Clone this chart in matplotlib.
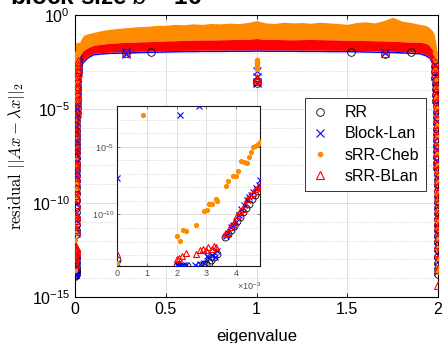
"""Residual of computed eigenpairs vs eigenvalue, with a zoom on the small end."""

import matplotlib

matplotlib.use("Agg")
import matplotlib.pyplot as plt
import numpy as np
from matplotlib.ticker import FixedLocator, NullFormatter

plt.rcParams["font.family"] = ["Liberation Sans", "DejaVu Sans"]
plt.rcParams["mathtext.fontset"] = "custom"
plt.rcParams["mathtext.rm"] = "Liberation Sans"
plt.rcParams["mathtext.it"] = "Liberation Sans:italic"
plt.rcParams["mathtext.bf"] = "Liberation Sans:bold"

ORANGE = "#ff8c00"

# ---- bulk of the spectrum: envelopes of the dense bands (log10 residual) ----
band_x = [0.004, 0.01, 0.02, 0.03, 0.045, 0.07, 0.1, 0.15, 0.2, 0.25, 0.3, 0.35, 0.4, 0.45,
          0.5, 0.55, 0.6, 0.65, 0.7, 0.75, 0.8, 0.85, 0.9, 0.95, 1.0, 1.05, 1.1, 1.15, 1.2,
          1.25, 1.3, 1.35, 1.4, 1.45, 1.5, 1.55, 1.6, 1.65, 1.7, 1.75, 1.8, 1.85, 1.9, 1.93,
          1.95, 1.97, 1.98, 1.99, 1.996]
cheb_hi = [-3.5, -2.2, -1.6, -1.35, -1.1, -1.0, -0.93, -0.82, -0.75, -0.7, -0.66, -0.62,
           -0.6, -0.55, -0.55, -0.5, -0.52, -0.47, -0.5, -0.45, -0.47, -0.43, -0.46, -0.4,
           -0.3, -0.42, -0.45, -0.38, -0.42, -0.4, -0.44, -0.38, -0.42, -0.45, -0.5, -0.4,
           -0.36, -0.42, -0.3, -0.12, -0.32, -0.4, -0.5, -0.55, -0.65, -0.85, -1.05, -1.6,
           -2.4]
blan_hi = [-4.0, -2.9, -2.35, -2.1, -1.9, -1.75, -1.62, -1.55, -1.5, -1.47, -1.45, -1.43,
           -1.42, -1.4, -1.38, -1.37, -1.35, -1.34, -1.33, -1.33, -1.32, -1.31, -1.3, -1.3,
           -1.25, -1.3, -1.3, -1.31, -1.32, -1.31, -1.3, -1.31, -1.32, -1.33, -1.35, -1.35,
           -1.36, -1.37, -1.38, -1.4, -1.42, -1.44, -1.45, -1.5, -1.6, -1.85, -2.2, -2.8,
           -3.5]
blan_lo = [-6.0, -4.2, -3.3, -2.8, -2.45, -2.2, -2.05, -2.0, -1.97, -1.96, -1.95, -1.93,
           -1.92, -1.91, -1.9, -1.89, -1.88, -1.88, -1.87, -1.87, -1.87, -1.86, -1.86, -1.86,
           -1.85, -1.86, -1.86, -1.86, -1.86, -1.87, -1.87, -1.87, -1.88, -1.88, -1.88,
           -1.89, -1.9, -1.91, -1.92, -1.93, -1.95, -1.97, -2.0, -2.1, -2.2, -2.6, -3.2,
           -4.2, -5.5]
lan_lo = [-6.1, -4.3, -3.4, -2.9, -2.55, -2.3, -2.13, -2.08, -2.05, -2.04, -2.03, -2.01,
          -2.0, -1.99, -1.98, -1.97, -1.96, -1.96, -1.95, -1.95, -1.95, -1.94, -1.94, -1.94,
          -1.93, -1.94, -1.94, -1.94, -1.94, -1.95, -1.95, -1.95, -1.96, -1.96, -1.96,
          -1.97, -1.98, -1.99, -2.0, -2.01, -2.03, -2.05, -2.08, -2.18, -2.3, -2.7, -3.3,
          -4.3, -5.6]

# ---- isolated points inside the spectrum (eigenvalue, log10 residual) ----
rr_mid_x = [0.28, 0.42, 1.0, 1.0, 1.52, 1.71, 1.85]
rr_mid_r = [-2.0, -1.95, -3.6, -3.5, -1.95, -2.05, -1.97]
lan_mid_x = [0.28, 0.28, 1.0, 1.0, 1.0, 1.0, 1.71]
lan_mid_r = [-2.05, -1.98, -3.0, -3.3, -3.6, -3.55, -2.0]
cheb_mid_x = [1.0, 1.0, 1.0, 1.0]
cheb_mid_r = [-2.4, -2.55, -2.7, -2.85]
blan_mid_x = [0.28, 1.0, 1.0, 1.71]
blan_mid_r = [-2.0, -3.35, -3.45, -2.0]

# ---- small end of the spectrum, eigenvalue in units of 1e-3 ----
rr_small_x = [0, 2.0, 2.1, 2.25, 2.35, 2.8, 2.92, 3.0, 3.08, 3.15, 3.25, 3.35, 3.62, 3.72,
              3.82, 3.92, 4.02, 4.12, 4.22, 4.32, 4.42, 4.52, 4.62, 4.72, 4.8]
rr_small_r = [-13.36, -13.8, -13.82, -13.87, -13.82, -13.75, -13.68, -13.63, -13.58, -13.38,
              -13.14, -12.9, -11.67, -11.45, -11.15, -10.85, -10.5, -10.15, -9.85, -9.5,
              -9.2, -8.85, -8.55, -8.25, -7.95]
lan_small_x = [0, 0, 2.11, 2.75, 2.0, 2.05, 2.11, 2.22, 2.31, 2.62, 2.79, 2.92, 3.01, 3.07,
               3.18, 3.29, 3.35, 3.65, 3.74, 3.82, 3.9, 3.99, 4.08, 4.16, 4.25, 4.36, 4.42,
               4.5, 4.58, 4.66, 4.75, 4.81]
lan_small_r = [-7.3, -13.6, -2.65, -2.03, -13.75, -13.7, -13.75, -13.75, -13.7, -13.7,
               -13.65, -13.6, -13.05, -13.17, -12.97, -13.1, -12.7, -11.6, -11.37, -10.93,
               -10.76, -10.52, -10.03, -9.61, -9.3, -8.93, -8.68, -8.56, -8.31, -8.06, -7.82,
               -7.45]
cheb_small_x = [0, 0.88, 2.03, 2.11, 2.22, 2.31, 2.65, 2.92, 3.01, 3.10, 3.18, 3.33, 3.35,
                3.66, 3.74, 3.91, 3.99, 4.07, 4.16, 4.25, 4.36, 4.42, 4.49, 4.56, 4.64,
                4.72, 4.81]
cheb_small_r = [-13.58, -2.65, -11.59, -11.96, -11.18, -11.25, -10.81, -9.75, -9.7, -9.22,
                -9.22, -8.85, -9.0, -7.92, -7.55, -7.18, -7.13, -6.76, -6.08, -6.15, -6.2,
                -5.74, -5.37, -5.05, -4.93, -4.8, -4.68]
blan_small_x = [0, 2.0, 2.08, 2.17, 2.31, 2.65, 2.79, 2.88, 2.99, 3.07, 3.18, 3.26, 3.33,
                3.63, 3.69, 3.80, 3.89, 3.97, 4.04, 4.13, 4.22, 4.30, 4.38, 4.47, 4.56,
                4.64, 4.72, 4.79]
blan_small_r = [-12.9, -13.26, -13.21, -13.09, -12.84, -12.89, -12.6, -12.52, -12.6, -12.4,
                -12.52, -12.35, -12.4, -11.47, -11.37, -10.93, -10.69, -10.56, -10.07,
                -9.71, -9.58, -9.22, -8.85, -8.6, -8.43, -8.11, -7.94, -7.87]

# just past the zoomed window, where the residuals climb to the band
rise_x = [0.0051, 0.0054, 0.0057, 0.006, 0.0063, 0.0066, 0.0069, 0.0072, 0.0076, 0.008,
          0.0084, 0.0088, 0.0093, 0.0098, 0.0104, 0.011, 0.0117, 0.0124, 0.0133, 0.0142,
          0.0152, 0.0165, 0.018]
blan_rise_r = [-7.6, -7.35, -7.1, -6.85, -6.6, -6.4, -6.15, -5.9, -5.65, -5.4, -5.2, -4.95,
               -4.7, -4.45, -4.2, -3.95, -3.75, -3.5, -3.25, -3.05, -2.85, -2.65, -2.45]
lan_rise_r = [-7.4, -7.2, -6.9, -6.7, -6.45, -6.2, -5.95, -5.7, -5.45, -5.25, -5.0, -4.75,
              -4.5, -4.25, -4.05, -3.8, -3.55, -3.35, -3.1, -2.9, -2.7, -2.5, -2.35]
cheb_rise_r = [-4.55, -4.4, -4.25, -4.1, -3.95, -3.8, -3.65, -3.5, -3.35, -3.2, -3.05,
               -2.9, -2.75, -2.6, -2.45, -2.3, -2.2, -2.1, -2.0, -1.9, -1.8, -1.7, -1.6]

# right end of the spectrum, eigenvalues next to 2
right_x = [1.982, 1.984, 1.986, 1.988, 1.989, 1.99, 1.991, 1.992, 1.9925, 1.993, 1.9935,
           1.994, 1.9945, 1.995, 1.9955, 1.996, 1.9964, 1.9968, 1.9971, 1.9974, 1.9977,
           1.998, 1.9982, 1.9984, 1.9986, 1.9988, 1.999, 1.9991, 1.9992, 1.9993, 1.9994,
           1.9995, 1.9996, 1.9997, 1.9998, 1.9999, 2.0]
blan_right_r = [-2.5, -2.8, -3.1, -3.4, -3.7, -4.0, -4.3, -4.6, -4.9, -5.2, -5.5, -5.8,
                -6.1, -6.4, -6.7, -7.0, -7.3, -7.6, -7.9, -8.2, -8.5, -8.8, -9.1, -9.4,
                -9.7, -10.0, -10.3, -10.6, -10.9, -11.2, -11.5, -11.8, -12.2, -12.6, -13.0,
                -13.5, -14.36]
lan_right_r = [-2.6, -2.9, -3.25, -3.55, -3.85, -4.15, -4.45, -4.75, -5.05, -5.35, -5.65,
               -5.95, -6.25, -6.55, -6.85, -7.15, -7.45, -7.75, -8.05, -8.35, -8.65, -8.95,
               -9.25, -9.55, -9.85, -10.15, -10.45, -10.75, -11.05, -11.35, -11.65, -11.95,
               -12.35, -12.75, -13.1, -13.4, -13.6]
rr_right_r = [-2.7, -3.0, -3.35, -3.65, -3.95, -4.25, -4.55, -4.85, -5.15, -5.45, -5.75,
              -6.05, -6.35, -6.65, -6.95, -7.25, -7.55, -7.85, -8.15, -8.45, -8.75, -9.05,
              -9.35, -9.65, -9.95, -10.25, -10.55, -10.85, -11.15, -11.45, -11.75, -12.05,
              -12.45, -12.85, -13.2, -13.5, -13.75]
cheb_right_r = [-2.0, -2.4, -2.9, -3.4, -3.9, -4.4, -4.9, -5.4, -5.9, -6.4, -6.9, -7.4,
                -7.9, -8.4, -8.9, -9.4, -9.9, -10.4, -10.9, -11.4, -11.9, -12.4, -12.9,
                -13.4, -13.5, -13.55, -13.6, -13.6, -13.6, -13.6, -13.6, -13.6, -13.6,
                -13.6, -13.6, -13.6, -13.6]

fig = plt.figure(figsize=(4.44, 3.43), dpi=100)
ax = fig.add_axes([75 / 444, 1 - 297 / 343, 363 / 444, 282 / 343])

p = lambda v: 10.0 ** np.asarray(v)

# dense bands
bx = np.asarray(band_x)
ax.fill_between(bx, p(cheb_hi), p(blan_hi), color=ORANGE, lw=0, zorder=2)
ax.fill_between(bx, p(blan_lo), p(lan_lo), color="b", lw=0, zorder=2)
ax.fill_between(bx, p(blan_hi), p(blan_lo), color="r", lw=0, zorder=3)

small = lambda v: np.asarray(v) * 1e-3


def scatter_all(a, xs_rr, rr, xs_lan, lan, xs_cheb, cheb, xs_blan, blan, ms, label=False):
    a.plot(xs_rr, p(rr), "o", mfc="none", mec="k", ms=ms, mew=0.6, ls="none",
           label="RR" if label else None, zorder=4)
    a.plot(xs_lan, p(lan), "x", color="b", ms=ms, mew=0.8, ls="none",
           label="Block-Lan" if label else None, zorder=4)
    a.plot(xs_cheb, p(cheb), ".", color=ORANGE, ms=ms + 0.5, ls="none",
           label="sRR-Cheb" if label else None, zorder=4)
    a.plot(xs_blan, p(blan), "^", mfc="none", mec="r", ms=ms, mew=0.8, ls="none",
           label="sRR-BLan" if label else None, zorder=5)


ms_main = 5.5
scatter_all(ax, small(rr_small_x), rr_small_r, small(lan_small_x), lan_small_r,
            small(cheb_small_x), cheb_small_r, small(blan_small_x), blan_small_r, ms_main)
scatter_all(ax, rise_x, blan_rise_r, rise_x, lan_rise_r, rise_x, cheb_rise_r,
            rise_x, blan_rise_r, ms_main)
scatter_all(ax, right_x, rr_right_r, right_x, lan_right_r, right_x, cheb_right_r,
            right_x, blan_right_r, ms_main)
scatter_all(ax, rr_mid_x, rr_mid_r, lan_mid_x, lan_mid_r, cheb_mid_x, cheb_mid_r,
            blan_mid_x, blan_mid_r, ms_main)

# legend handles only
scatter_all(ax, [], [], [], [], [], [], [], [], 5.5, label=True)

ax.set_yscale("log")
ax.set_xlim(0, 2)
ax.set_ylim(1e-15, 1e0)
ax.set_xticks([0, 0.5, 1, 1.5, 2])
ax.set_xticklabels(["0", "0.5", "1", "1.5", "2"])
ax.yaxis.set_major_locator(FixedLocator([1e-15, 1e-10, 1e-5, 1e0]))
ax.yaxis.set_minor_locator(FixedLocator([10.0 ** k for k in range(-15, 1)]))
ax.yaxis.set_minor_formatter(NullFormatter())
ax.grid(True, which="major", color="0.85", lw=0.6, zorder=0)
ax.grid(True, which="minor", axis="y", color="0.8", lw=0.6, ls=":", zorder=0)
ax.set_axisbelow(True)
ax.tick_params(which="both", direction="in", top=True, right=True, labelsize=11.5,
               length=3, width=0.6)
ax.tick_params(which="minor", length=0)
for s in ax.spines.values():
    s.set_linewidth(0.8)
ax.set_xlabel("eigenvalue", fontsize=12, labelpad=9)
ax.set_ylabel(r"$\mathrm{residual}\ ||Ax-\lambda x||_2$", fontsize=12,
              math_fontfamily="cm", labelpad=3)

leg = ax.legend(loc="upper left", bbox_to_anchor=(0.634, 0.705), fontsize=11.5,
                frameon=True, fancybox=False, edgecolor="0.2", framealpha=1,
                handletextpad=1.0, borderpad=0.45, labelspacing=0.38,
                handlelength=1.0, borderaxespad=0)
leg.get_frame().set_linewidth(0.7)
leg.set_zorder(10)

# heading sits mostly above the top edge of the image
fig.text(10 / 444, 1 - 3.5 / 343, r"block size $b$ = 16", fontsize=17.5,
         fontweight="bold", va="baseline")

# ---- inset: zoom on the smallest eigenvalues ----
ins = fig.add_axes([117 / 444, 1 - 266 / 343, 143 / 444, 160 / 343])
ins.set_facecolor("white")
ins.set_zorder(6)
scatter_all(ins, rr_small_x, rr_small_r, lan_small_x, lan_small_r, cheb_small_x,
            cheb_small_r, blan_small_x, blan_small_r, 5)
ins.set_yscale("log")
ins.set_xlim(0, 4.8)
ins.set_ylim(10 ** -13.8, 1e-2)
ins.set_xticks([0, 1, 2, 3, 4])
ins.yaxis.set_major_locator(FixedLocator([1e-10, 1e-5]))
ins.yaxis.set_minor_locator(FixedLocator([10.0 ** k for k in range(-14, -1)]))
ins.yaxis.set_minor_formatter(NullFormatter())
ins.grid(True, which="major", color="0.85", lw=0.6, zorder=0)
ins.grid(True, which="minor", axis="y", color="0.8", lw=0.6, ls=":", zorder=0)
ins.set_axisbelow(True)
ins.tick_params(which="both", direction="in", top=True, right=True, labelsize=6.5,
                length=2, width=0.5, colors="0.3", pad=2)
ins.tick_params(which="minor", length=0)
for s in ins.spines.values():
    s.set_linewidth(0.8)
    s.set_color("0.1")
fig.text(237 / 444, 1 - 290 / 343, r"$\times10^{-3}$", fontsize=6.5, color="0.3")

fig.savefig("out.png", dpi=100)
